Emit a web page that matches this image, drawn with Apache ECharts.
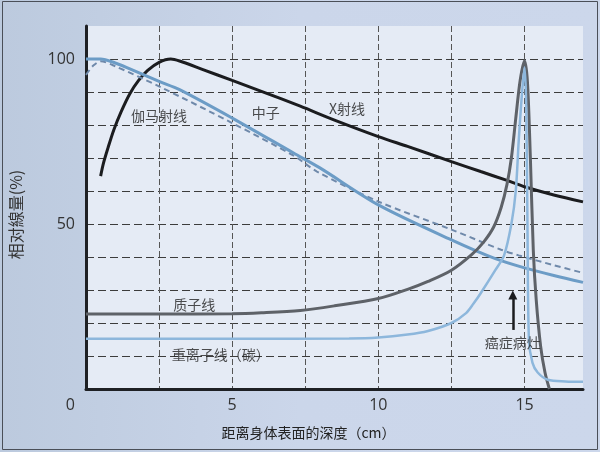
<!DOCTYPE html>
<html>
<head>
    <meta charset="utf-8">
    <title>相对線量与深度</title>
    <script src="https://cdn.jsdelivr.net/npm/echarts@6/dist/echarts.min.js"></script>
    <style>
        html, body {
            margin: 0;
            padding: 0;
            width: 100%;
            height: 100%;
            overflow: hidden;
        }
        #chart {
            width: 600px;
            height: 452px;
        }
    </style>
</head>
<body>
    <div id="chart"></div>
    <script>
        // 深度 (cm) 与相对線量 (%)
        const xrayDepth = [0.5, 0.6, 0.75, 0.95, 1.2, 1.5, 1.8, 2.1, 2.5, 2.9, 3.2, 4.0, 5.0, 6.0, 7.33, 8.5, 10.0, 11.0, 12.5, 13.5, 14.4, 15.0, 16.0, 17.0];
        const xrayDose = [64.5, 68.5, 73, 78.5, 84, 89.5, 93.5, 96.5, 99, 100, 99.4, 96.8, 93.5, 90.2, 85.7, 81.5, 76.5, 73.5, 68.9, 65.9, 63.2, 61.3, 58.8, 56.7];

        const neutronDepth = [0, 0.5, 1.0, 1.5, 2.5, 3.2, 5.0, 7.1, 8.0, 10.0, 12.5, 14.0, 15.0, 16.0, 17.0];
        const neutronDose = [100, 100, 98.8, 97, 93.2, 90.7, 82.1, 71.5, 67, 55.8, 45.2, 39.5, 36.7, 34.4, 32.3];

        const gammaDepth = [0, 0.25, 0.5, 1.0, 2.5, 5.0, 7.1, 7.9, 10.0, 12.5, 14.2, 14.8, 16.0, 17.0];
        const gammaDose = [95.2, 98, 99.3, 97.8, 91.7, 80.6, 70.7, 65.9, 56.8, 48.3, 42.2, 40.5, 37.5, 35.2];

        const protonDepth = [0, 2.5, 5.0, 6.0, 7.33, 8.5, 10.0, 11.0, 11.7, 12.5, 13.2, 13.6, 13.94, 14.2, 14.4, 14.55, 14.7, 14.85, 15.0, 15.1, 15.2, 15.3, 15.4, 15.55, 15.7, 15.85];
        const protonDose = [22.7, 22.7, 22.8, 23.1, 23.8, 25.2, 27.4, 30.2, 32.6, 36, 40.8, 44.5, 49, 55, 62, 70, 82, 93.5, 99.5, 93, 70, 42, 27, 13, 5, 0];

        const carbonDepth = [0, 5.0, 9.0, 10.0, 11.0, 11.7, 12.5, 13.0, 13.25, 13.5, 14.0, 14.3, 14.55, 14.7, 14.8, 14.9, 15.0, 15.06, 15.1, 15.15, 15.27, 15.45, 15.8, 16.4, 17.0];
        const carbonDose = [15.2, 15.2, 15.3, 15.6, 16.5, 17.6, 20, 23, 25.8, 29, 36, 40.5, 50, 60, 75, 88, 97.5, 85, 50, 15, 8, 5, 2.8, 2.3, 2.2];

        // 曲线名称标注
        const labelText = ['伽马射线', '中子', 'X射线', '质子线', '重离子线（碳）', '癌症病灶'];
        const labelDepth = [2.5, 6.15, 8.93, 3.7, 4.61, 14.6];
        const labelDose = [82.7, 83.7, 84.8, 25.7, 10.3, 13.9];

        // 病灶箭头
        const arrowDepth = 14.6;
        const arrowFrom = 17.9;
        const arrowTo = 28.5;

        const cjkFont = '"Noto Sans CJK SC", sans-serif';
        const numFont = '"Open Sans", sans-serif';

        function pairs(xs, ys) {
            return xs.map((x, i) => [x, ys[i]]);
        }

        function curve(name, xs, ys, color, width, type) {
            return {
                name: name,
                type: 'line',
                data: pairs(xs, ys),
                smooth: 0.3,
                showSymbol: false,
                symbol: 'none',
                lineStyle: { color: color, width: width, type: type || 'solid' },
                animation: false
            };
        }

        const chart = echarts.init(document.getElementById('chart'));

        chart.setOption({
            backgroundColor: new echarts.graphic.LinearGradient(0, 0, 1, 0, [
                { offset: 0, color: '#bccade' },
                { offset: 0.5, color: '#cbd6ea' },
                { offset: 1, color: '#ccd7eb' }
            ]),
            textStyle: { fontFamily: cjkFont },
            graphic: [{
                type: 'rect',
                shape: { x: 2.5, y: 1.5, width: 595, height: 448 },
                style: { fill: 'none', stroke: '#4a4f58', lineWidth: 1 },
                silent: true
            }],
            grid: {
                left: 85,
                right: 17,
                top: 26,
                bottom: 63,
                show: true,
                backgroundColor: '#e5ebf5',
                borderWidth: 0
            },
            xAxis: {
                type: 'value',
                min: 0,
                max: 17,
                interval: 2.5,
                name: '距离身体表面的深度（cm）',
                nameLocation: 'middle',
                nameGap: 37,
                nameTextStyle: {
                    fontFamily: cjkFont,
                    fontSize: 14,
                    color: '#222',
                    padding: [0, 52, 0, 0]
                },
                axisLine: { show: true, lineStyle: { color: '#1e2024', width: 3 } },
                axisTick: { show: false },
                axisLabel: {
                    margin: 8,
                    fontFamily: numFont,
                    fontSize: 16,
                    color: '#333',
                    formatter: (v) => (v > 0 && v % 5 === 0) ? String(v) : ''
                },
                splitLine: {
                    show: true,
                    showMinLine: false,
                    showMaxLine: false,
                    lineStyle: { color: '#555', width: 1, type: [6, 3] }
                }
            },
            yAxis: {
                type: 'value',
                min: 0,
                max: 110,
                interval: 10,
                name: '相对線量(%)',
                nameLocation: 'middle',
                nameRotate: 90,
                nameGap: 62,
                nameTextStyle: {
                    fontFamily: cjkFont,
                    fontSize: 16,
                    color: '#333',
                    padding: [0, 14, 0, 0]
                },
                axisLine: { show: true, lineStyle: { color: '#1e2024', width: 3 } },
                axisTick: { show: false },
                axisLabel: {
                    margin: 11,
                    fontFamily: numFont,
                    fontSize: 16,
                    color: '#333',
                    formatter: (v) => v === 0 ? '{z|0}' : (v % 50 === 0 ? String(v) : ''),
                    rich: {
                        z: { fontFamily: numFont, fontSize: 16, color: '#333', padding: [32, 0, 0, 0] }
                    }
                },
                splitLine: {
                    show: true,
                    showMinLine: false,
                    showMaxLine: false,
                    lineStyle: { color: '#3c3c3c', width: 1, type: [8, 4] }
                }
            },
            series: [
                curve('X射线', xrayDepth, xrayDose, '#1b1c1f', 3),
                curve('伽马射线', gammaDepth, gammaDose, '#6f89aa', 2, [6, 4]),
                curve('中子', neutronDepth, neutronDose, '#6c9cc6', 3),
                curve('质子线', protonDepth, protonDose, '#5e6268', 3),
                curve('重离子线（碳）', carbonDepth, carbonDose, '#8db7dc', 2.5),
                {
                    name: '标注',
                    type: 'scatter',
                    symbol: 'circle',
                    symbolSize: 1,
                    itemStyle: { color: 'transparent' },
                    data: labelText.map((t, i) => ({ value: [labelDepth[i], labelDose[i]], name: t })),
                    label: {
                        show: true,
                        position: 'inside',
                        formatter: (p) => p.name,
                        fontFamily: cjkFont,
                        fontSize: 14,
                        color: '#222'
                    },
                    markLine: {
                        silent: true,
                        symbol: ['none', 'triangle'],
                        symbolSize: 9,
                        label: { show: false },
                        lineStyle: { color: '#1b1c1f', width: 2.5, type: 'solid' },
                        data: [[
                            { coord: [arrowDepth, arrowFrom] },
                            { coord: [arrowDepth, arrowTo] }
                        ]]
                    },
                    animation: false,
                    z: 5
                }
            ]
        });
    </script>
</body>
</html>
